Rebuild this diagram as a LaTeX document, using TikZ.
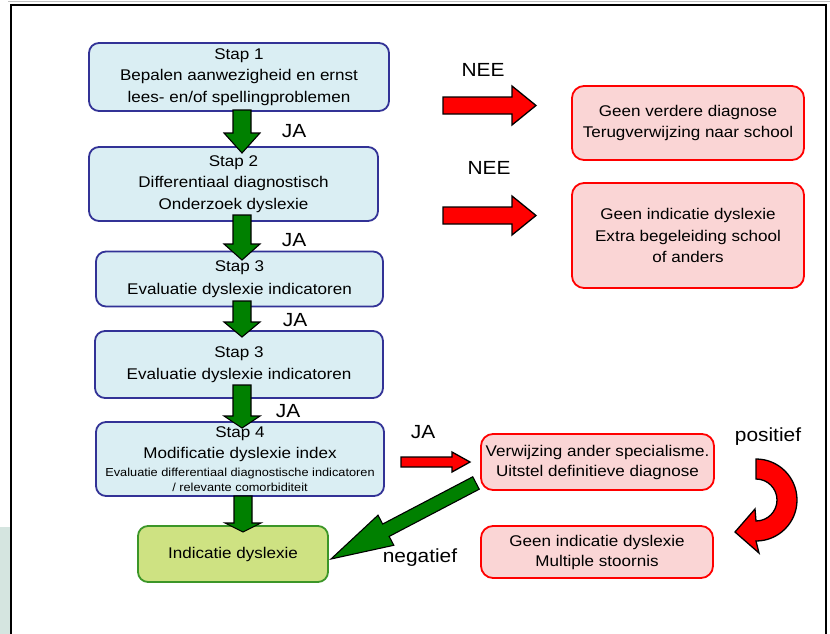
\documentclass[tikz,border=0pt]{standalone}
\usepackage{fontspec}
\setmainfont{Liberation Sans}[FakeStretch=1.1]
\usetikzlibrary{calc}
\definecolor{boxblue}{RGB}{218,238,243}
\definecolor{edgeblue}{RGB}{50,50,150}
\definecolor{boxred}{RGB}{250,213,213}
\definecolor{edgered}{RGB}{255,0,0}
\definecolor{arrgreen}{RGB}{0,128,0}
\definecolor{boxgreen}{RGB}{206,226,130}
\definecolor{edgegreen}{RGB}{60,150,40}
\definecolor{stripcol}{RGB}{213,229,224}
% #1 style, #2 start, #3 tip, #4 shaft half width, #5 head half width, #6 head length
\newcommand\blockarr[6]{%
  \path ($(#3)!#6!(#2)$) coordinate (ba-base);
  \draw[#1] ($(#2)!#4!90:(#3)$) -- ($(ba-base)!#4!90:(#3)$) -- ($(ba-base)!#5!90:(#3)$)
    -- (#3) -- ($(ba-base)!#5!-90:(#3)$) -- ($(ba-base)!#4!-90:(#3)$)
    -- ($(#2)!#4!-90:(#3)$) -- cycle;}
\begin{document}
\begin{tikzpicture}[x=1pt,y=-1pt,line join=miter,
  mainfont/.style={font=\fontsize{15.5}{21.5}\selectfont},
  stepbox/.style={mainfont,draw=edgeblue,line width=1.8pt,fill=boxblue,rounded corners=10pt,align=center,inner sep=0pt,text=black},
  redbox/.style={mainfont,draw=edgered,line width=1.8pt,fill=boxred,rounded corners=12pt,align=center,inner sep=0pt,text=black},
  greenbox/.style={mainfont,draw=edgegreen,line width=1.8pt,fill=boxgreen,rounded corners=10pt,align=center,inner sep=0pt,text=black},
  greenarr/.style={fill=arrgreen,draw=black,line width=1.1pt},
  redarr/.style={fill=edgered,draw=black,line width=1.3pt},
  lbl/.style={font=\fontsize{19}{22}\selectfont,inner sep=0pt,text=black}]
\useasboundingbox (0,0) rectangle (830,634);
% frame
\fill[stripcol] (0,527) rectangle (10,634);
\draw[black!25,line width=1pt] (8,2) -- (830,2);
\draw[black,line width=2pt] (11,634) -- (11,5.5) -- (826,5.5) -- (826,634);
% boxes
\node[stepbox,minimum width=300pt,minimum height=68pt] (s1) at (239,77)
  {Stap 1\\Bepalen aanwezigheid en ernst\\lees- en/of spellingproblemen};
\node[stepbox,minimum width=289pt,minimum height=74pt] (s2) at (233.5,184)
  {Stap 2\\Differentiaal diagnostisch\\Onderzoek dyslexie};
\node[stepbox,minimum width=287pt,minimum height=55pt] (s3a) at (239.5,279)
  {Stap 3\\[1pt]Evaluatie dyslexie indicatoren};
\node[stepbox,minimum width=288pt,minimum height=67pt] (s3b) at (239,364.5)
  {Stap 3\\[1pt]Evaluatie dyslexie indicatoren};
\node[stepbox,minimum width=288pt,minimum height=74pt] (s4) at (240,459)
  {Stap 4\\Modificatie dyslexie index\\[-3.5pt]{\fontsize{11.6}{14}\selectfont Evaluatie differentiaal diagnostische indicatoren}\\[-6.5pt]{\fontsize{11.6}{14}\selectfont / relevante comorbiditeit}};
\node[greenbox,minimum width=190pt,minimum height=56pt] (ind) at (233,554) {Indicatie dyslexie};
\node[redbox,minimum width=232pt,minimum height=74pt] (r1) at (688,123)
  {Geen verdere diagnose\\Terugverwijzing naar school};
\node[redbox,minimum width=232pt,minimum height=105pt] (r2) at (688,235.5)
  {Geen indicatie dyslexie\\Extra begeleiding school\\of anders};
\node[redbox,minimum width=233pt,minimum height=56pt] (vw) at (597.5,462)
  {Verwijzing ander specialisme.\\[-1.5pt]Uitstel definitieve diagnose};
\node[redbox,minimum width=232pt,minimum height=52pt] (ms) at (597,552)
  {Geen indicatie dyslexie\\[-1.5pt]Multiple stoornis};
% arrow end points
\coordinate (a1s) at (242,110); \coordinate (a1t) at (242,153);
\coordinate (a2s) at (242,215); \coordinate (a2t) at (242,260);
\coordinate (a3s) at (242,301); \coordinate (a3t) at (242,337);
\coordinate (a4s) at (242,385); \coordinate (a4t) at (242,428);
\coordinate (a5s) at (243,496); \coordinate (a5t) at (243,532);
\coordinate (n1s) at (443,105.5); \coordinate (n1t) at (536,105.5);
\coordinate (n2s) at (443,215.5); \coordinate (n2t) at (536,215.5);
\coordinate (jas) at (401,462); \coordinate (jat) at (470,462);
\coordinate (ds) at (476,483); \coordinate (dt) at (331,559);
% green down arrows
\blockarr{greenarr}{a1s}{a1t}{9pt}{18pt}{20pt}
\blockarr{greenarr}{a2s}{a2t}{9pt}{18pt}{16pt}
\blockarr{greenarr}{a3s}{a3t}{9pt}{18pt}{15pt}
\blockarr{greenarr}{a4s}{a4t}{9pt}{18pt}{12pt}
\blockarr{greenarr}{a5s}{a5t}{9pt}{18pt}{9pt}
% red arrows
\blockarr{redarr}{n1s}{n1t}{8.5pt}{19.5pt}{24pt}
\blockarr{redarr}{n2s}{n2t}{8.5pt}{19.5pt}{24pt}
\blockarr{redarr}{jas}{jat}{5pt}{10pt}{18pt}
% diagonal green arrow
\blockarr{greenarr}{ds}{dt}{7pt}{17pt}{62pt}
% curved red arrow
\draw[redarr] (756,459) arc[start angle=-90,end angle=90,radius=41] -- (759,553) -- (735,532)
  -- (755,509) -- (756,521) arc[start angle=90,end angle=-90,radius=21] -- cycle;
% labels
\node[lbl] (ja1) at (294,131) {JA};
\node[lbl] (ja2) at (294,240) {JA};
\node[lbl] (ja3) at (295,320) {JA};
\node[lbl] (ja4) at (288,411) {JA};
\node[lbl] (ja5) at (423,432) {JA};
\node[lbl] (nee1) at (483,70) {NEE};
\node[lbl] (nee2) at (489,168) {NEE};
\node[lbl] (neg) at (420,558) {negatief};
\node[lbl] (pos) at (768,437) {positief};
\end{tikzpicture}
\end{document}
